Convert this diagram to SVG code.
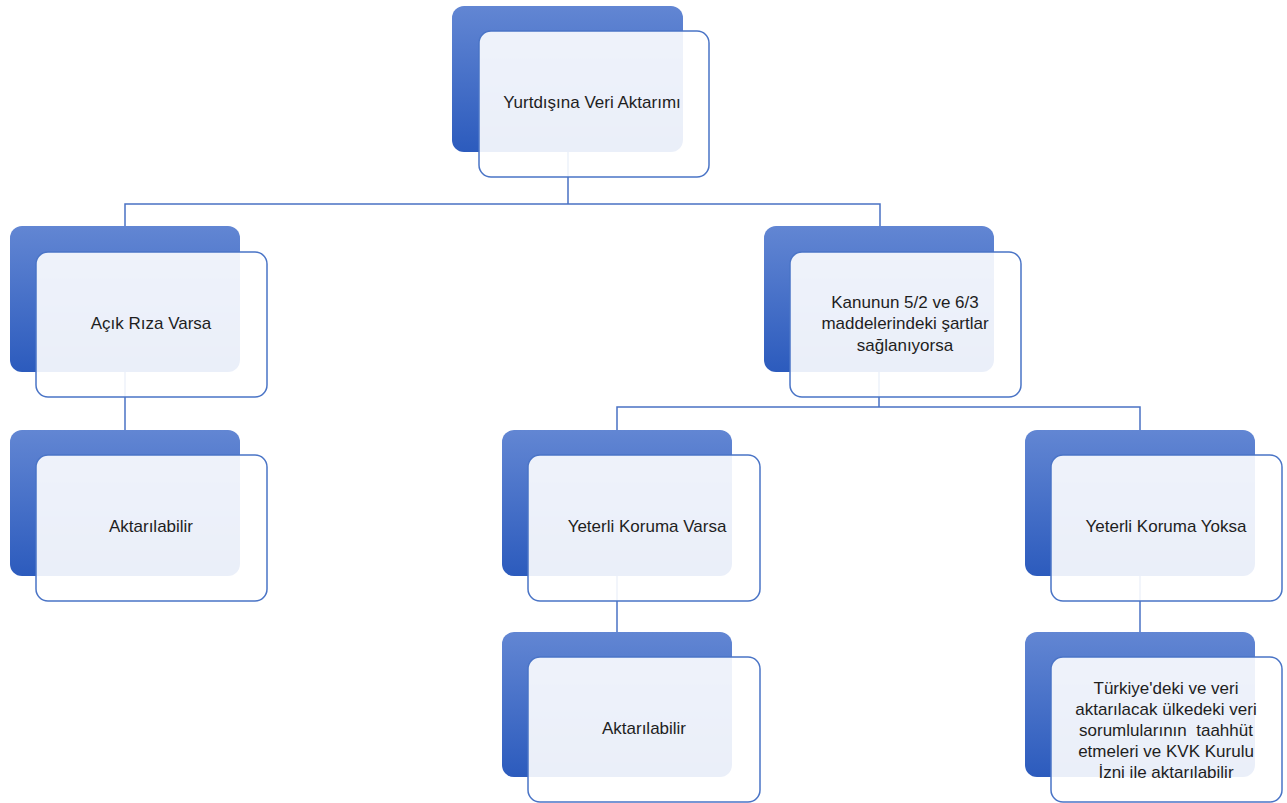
<svg xmlns="http://www.w3.org/2000/svg" width="1287" height="803" viewBox="0 0 1287 803">
<defs>
<linearGradient id="g" x1="0" y1="0" x2="0" y2="1">
<stop offset="0" stop-color="#6286d3"/>
<stop offset="1" stop-color="#2c5bbd"/>
</linearGradient>
<style>
.back{fill:url(#g);}
.front{fill:#ffffff;fill-opacity:0.9;stroke:#4a74c6;stroke-width:1.5;}
.conn{fill:none;stroke:#4a72c4;stroke-width:1.5;}
text{font-family:"Liberation Sans",Arial,sans-serif;font-size:17px;fill:#1e1e1e;text-anchor:middle;dominant-baseline:central;white-space:pre;}
</style>
</defs>
<rect width="1287" height="803" fill="#ffffff"/>
<g id="connectors">
<path class="conn" d="M568,151 V204 M125,226 V204 H880 V226"/>
<path class="conn" d="M125,372 V430"/>
<path class="conn" d="M879,372 V407 M617,430 V407 H1140 V430"/>
<path class="conn" d="M617,576 V632"/>
<path class="conn" d="M1140,576 V632"/>
</g>
<g id="n1">
<rect class="back" x="452" y="6" width="231" height="146" rx="12"/>
<rect class="front" x="479" y="31" width="230" height="146" rx="12"/>
<text x="592" y="102">Yurtdışına Veri Aktarımı</text>
</g>
<g id="n2">
<rect class="back" x="10" y="226" width="230" height="146" rx="12"/>
<rect class="front" x="36" y="252" width="231" height="145" rx="12"/>
<text x="151" y="323">Açık Rıza Varsa</text>
</g>
<g id="n3">
<rect class="back" x="10" y="430" width="230" height="146" rx="12"/>
<rect class="front" x="36" y="455" width="231" height="146" rx="12"/>
<text x="151" y="526">Aktarılabilir</text>
</g>
<g id="n4">
<rect class="back" x="764" y="226" width="230" height="146" rx="12"/>
<rect class="front" x="790" y="252" width="231" height="145" rx="12"/>
<text x="905" y="302">Kanunun 5/2 ve 6/3</text>
<text x="905" y="323.5">maddelerindeki şartlar</text>
<text x="905" y="345">sağlanıyorsa</text>
</g>
<g id="n5">
<rect class="back" x="502" y="430" width="230" height="146" rx="12"/>
<rect class="front" x="528" y="455" width="232" height="146" rx="12"/>
<text x="647" y="526">Yeterli Koruma Varsa</text>
</g>
<g id="n6">
<rect class="back" x="1025" y="430" width="230" height="146" rx="12"/>
<rect class="front" x="1051" y="455" width="231" height="146" rx="12"/>
<text x="1166" y="526">Yeterli Koruma Yoksa</text>
</g>
<g id="n7">
<rect class="back" x="502" y="632" width="230" height="145" rx="12"/>
<rect class="front" x="528" y="657" width="232" height="145" rx="12"/>
<text x="644" y="728">Aktarılabilir</text>
</g>
<g id="n8">
<rect class="back" x="1025" y="632" width="230" height="145" rx="12"/>
<rect class="front" x="1051" y="657" width="231" height="145" rx="12"/>
<text x="1166" y="688">Türkiye'deki ve veri</text>
<text x="1166" y="709">aktarılacak ülkedeki veri</text>
<text x="1166" y="730" xml:space="preserve">sorumlularının  taahhüt</text>
<text x="1166" y="751">etmeleri ve KVK Kurulu</text>
<text x="1166" y="772">İzni ile aktarılabilir</text>
</g>
</svg>
